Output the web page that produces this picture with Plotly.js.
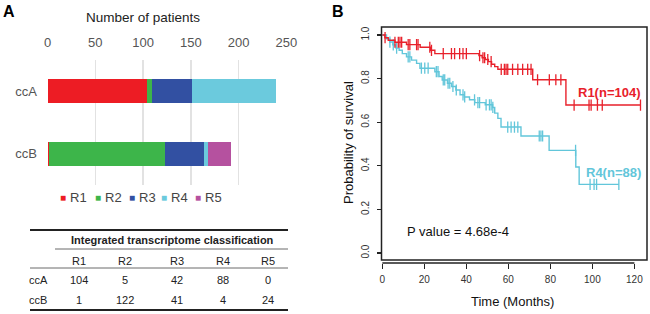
<!DOCTYPE html>
<html>
<head>
<meta charset="utf-8">
<script src="https://cdn.plot.ly/plotly-3.0.1.min.js"></script>
<style>html,body{margin:0;padding:0;background:#fff;}#chart{width:650px;height:314px;}</style>
</head>
<body>
<div id="chart"></div>
<script>
// ---------- DATA ----------
var groups = ['ccA', 'ccB'];
var regions = ['R1', 'R2', 'R3', 'R4', 'R5'];
var ccA = [104, 5, 42, 88, 0];
var ccB = [1, 122, 41, 4, 24];
var tableTitle = 'Integrated transcriptome classification';
var barTicks = [0, 50, 100, 150, 200, 250];

// Kaplan-Meier steps (months, survival)
var r1Times = [0, 1.2, 2.8, 6, 11.5, 18, 23, 25, 46, 47.5, 49, 50.5, 52, 53.5, 55, 71.6, 87.4];
var r1Surv  = [1, 0.988, 0.976, 0.967, 0.956, 0.944, 0.93, 0.915, 0.906, 0.896, 0.888, 0.878, 0.866, 0.855, 0.843, 0.795, 0.679];
var r1End = 123;
var r1Censor = [1.3, 6, 7.6, 8.4, 9.2, 12.3, 13.1, 16.3, 17, 22.6, 23.4, 29, 32.9, 34.4, 36.8, 38.4, 40, 46.3, 47.9, 48.7, 50.2, 51.8, 56.6, 58.1, 58.9, 59.7, 62, 64.5, 66.8, 69.2, 70.8, 73.9, 79.5, 82.6, 85, 91.3, 98.4, 99.4, 102.4, 104.7, 122.9];

var r4Times = [0, 2, 3.5, 5, 6.5, 8, 9.5, 11.5, 13.9, 16.3, 17.9, 25, 27, 28.5, 31, 33, 35, 37, 39, 41.5, 44, 49, 52.5, 53.5, 55, 56.5, 66, 79.4, 92.1, 93.7];
var r4Surv  = [1, 0.983, 0.968, 0.955, 0.94, 0.93, 0.915, 0.9, 0.885, 0.87, 0.848, 0.832, 0.81, 0.794, 0.779, 0.764, 0.748, 0.726, 0.716, 0.703, 0.69, 0.68, 0.668, 0.642, 0.618, 0.578, 0.537, 0.471, 0.395, 0.315];
var r4End = 112.6;
var r4Censor = [3.6, 5.2, 6.8, 12.3, 13.1, 18.6, 20.2, 21.8, 25.7, 26.5, 29, 29.7, 31.3, 32.1, 33.6, 35.2, 38.4, 39.2, 43.9, 45.5, 46.3, 49.4, 51, 51.8, 52.6, 59.7, 61.3, 62.9, 64.5, 74.7, 75.5, 76.3, 92, 98.9, 100.8, 102, 112.6];

var kmTicksX = [0, 20, 40, 60, 80, 100, 120];
var kmTicksY = [0, 0.2, 0.4, 0.6, 0.8, 1.0];
var pValueText = 'P value = 4.68e-4';
var r1Label = 'R1(n=104)';
var r4Label = 'R4(n=88)';

// ---------- STYLE ----------
var regionColors = ['#ED1C24', '#3DB54A', '#3250A2', '#6BCADD', '#B5519F'];
var kmRed = '#E8212B', kmCyan = '#62C6DA';
var FONT = 'Liberation Sans, Arial, sans-serif';
var W = 650, H = 314;
function px(x) { return x / W; }
function py(y) { return 1 - y / H; }

// ---------- TRACES ----------
var traces = [];
regions.forEach(function (r, i) {
  traces.push({
    type: 'bar', orientation: 'h', name: r,
    y: groups, x: [ccA[i], ccB[i]],
    marker: { color: regionColors[i], line: { width: 0 } },
    width: 0.39, xaxis: 'x', yaxis: 'y', showlegend: false, hoverinfo: 'skip'
  });
});

function stepLine(times, surv, end) {
  var xs = times.slice(), ys = surv.slice();
  xs.push(end); ys.push(surv[surv.length - 1]);
  return { x: xs, y: ys };
}
function survAt(times, surv, t) {
  var s = surv[0];
  for (var i = 0; i < times.length; i++) { if (times[i] <= t) s = surv[i]; }
  return s;
}
function addKM(times, surv, end, censor, color) {
  var l = stepLine(times, surv, end);
  traces.push({ type: 'scatter', mode: 'lines', x: l.x, y: l.y, line: { shape: 'hv', color: color, width: 1.4 },
    xaxis: 'x2', yaxis: 'y2', showlegend: false, hoverinfo: 'skip' });
  traces.push({ type: 'scatter', mode: 'markers', x: censor, y: censor.map(function (t) { return survAt(times, surv, t); }),
    marker: { symbol: 'line-ns', size: 8, line: { color: color, width: 1.3 } },
    xaxis: 'x2', yaxis: 'y2', showlegend: false, hoverinfo: 'skip' });
}
addKM(r4Times, r4Surv, r4End, r4Censor, kmCyan);
addKM(r1Times, r1Surv, r1End, r1Censor, kmRed);

// ---------- ANNOTATIONS / SHAPES ----------
var ann = [];
var shapes = [];
function txt(x, y, text, opts) {
  opts = opts || {};
  ann.push({ xref: 'paper', yref: 'paper', x: px(x), y: py(y), text: text, showarrow: false,
    xanchor: opts.xanchor || 'center', yanchor: opts.yanchor || 'middle', textangle: opts.angle || 0,
    font: { family: FONT, size: opts.size || 12, color: opts.color || '#000' } });
}
function hline(x0, x1, y, w, c) {
  shapes.push({ type: 'line', xref: 'paper', yref: 'paper', x0: px(x0), x1: px(x1), y0: py(y), y1: py(y),
    line: { color: c || '#222', width: w } });
}

txt(9, 12, '<b>A</b>', { size: 16 });
txt(338, 12, '<b>B</b>', { size: 16 });
txt(143, 18, 'Number of patients', { size: 13.5, color: '#222' });

// legend for the bar chart
var legX = [63, 98, 132, 164, 198];
regions.forEach(function (r, i) {
  txt(legX[i], 197, '■', { size: 10, color: regionColors[i] });
  txt(legX[i] + 5, 197.5, r, { size: 13, color: '#444', xanchor: 'left' });
});

// table
var colX = [79, 125, 177, 223, 268];
hline(30, 288, 230, 2, '#222');
txt(173, 240, '<b>' + tableTitle + '</b>', { size: 11, color: '#222' });
hline(55, 288, 249, 0.8, '#444');
regions.forEach(function (r, i) { txt(colX[i], 261, r, { size: 11, color: '#222' }); });
hline(30, 288, 268, 0.8, '#444');
var rows = [ccA, ccB], rowY = [280, 299.5];
groups.forEach(function (g, j) {
  txt(38, rowY[j], g, { size: 11, color: '#222' });
  rows[j].forEach(function (v, i) { txt(colX[i], rowY[j], String(v), { size: 11, color: '#222' }); });
});
hline(30, 288, 310, 2, '#222');

// KM panel texts
txt(348, 143, 'Probability of survival', { size: 13, angle: -90, color: '#111' });
txt(512, 301, 'Time (Months)', { size: 13, color: '#111' });
txt(405, 232, pValueText, { size: 13, xanchor: 'left', color: '#111' });
ann.push({ xref: 'x2', yref: 'y2', x: 124, y: r1Surv[r1Surv.length - 1], text: '<b>' + r1Label + '</b>', showarrow: false,
  xanchor: 'right', yanchor: 'bottom', yshift: 3, font: { family: FONT, size: 13, color: kmRed } });
ann.push({ xref: 'x2', yref: 'y2', x: 124, y: r4Surv[r4Surv.length - 1], text: '<b>' + r4Label + '</b>', showarrow: false,
  xanchor: 'right', yanchor: 'bottom', yshift: 2, font: { family: FONT, size: 13, color: kmCyan } });

// KM box and x axis line
shapes.push({ type: 'rect', xref: 'paper', yref: 'paper', x0: px(381.5), x1: px(647), y0: py(260), y1: py(27),
  line: { color: '#222', width: 1.5 } });
shapes.push({ type: 'line', xref: 'x2', yref: 'paper', x0: kmTicksX[0], x1: kmTicksX[kmTicksX.length - 1], y0: py(263), y1: py(263),
  line: { color: '#222', width: 1.3 } });

var layout = {
  width: W, height: H, margin: { l: 0, r: 0, t: 0, b: 0 },
  paper_bgcolor: '#fff', plot_bgcolor: 'rgba(0,0,0,0)',
  barmode: 'stack', bargap: 0, showlegend: false,
  font: { family: FONT },
  xaxis: {
    domain: [px(47), px(287)], range: [-0.6, 250.6], side: 'top', anchor: 'y',
    tickvals: barTicks, ticks: '', showgrid: true, gridcolor: '#E2E2E2', gridwidth: 1.5,
    zeroline: false, showline: false, ticklabelstandoff: 9,
    tickfont: { family: FONT, size: 13, color: '#555' }
  },
  yaxis: {
    domain: [py(185), py(60)], range: [1.5, -0.5], type: 'category', anchor: 'x',
    categoryarray: groups, ticks: '', showgrid: false, zeroline: false, showline: false, ticklabelstandoff: 9,
    tickfont: { family: FONT, size: 13, color: '#555' }
  },
  xaxis2: {
    domain: [px(381.5), px(647)], range: [-0.4, 126], anchor: 'free', position: py(263),
    tickvals: kmTicksX, ticks: 'outside', ticklen: 5, tickwidth: 1.2, tickcolor: '#222',
    showgrid: false, zeroline: false, showline: false, ticklabelstandoff: 2,
    tickfont: { family: FONT, size: 10, color: '#333' }
  },
  yaxis2: {
    domain: [py(260), py(27)], range: [-0.032, 1.037], anchor: 'x2',
    tickvals: kmTicksY, ticktext: kmTicksY.map(function (v) { return v.toFixed(1); }),
    ticks: 'outside', ticklen: 4, tickwidth: 1.2, tickcolor: '#222', tickangle: -90,
    showgrid: false, zeroline: false, showline: false, ticklabelstandoff: 4,
    tickfont: { family: FONT, size: 10, color: '#333' }
  },
  annotations: ann, shapes: shapes
};

Plotly.newPlot('chart', traces, layout, { staticPlot: true, displayModeBar: false });
</script>
</body>
</html>
